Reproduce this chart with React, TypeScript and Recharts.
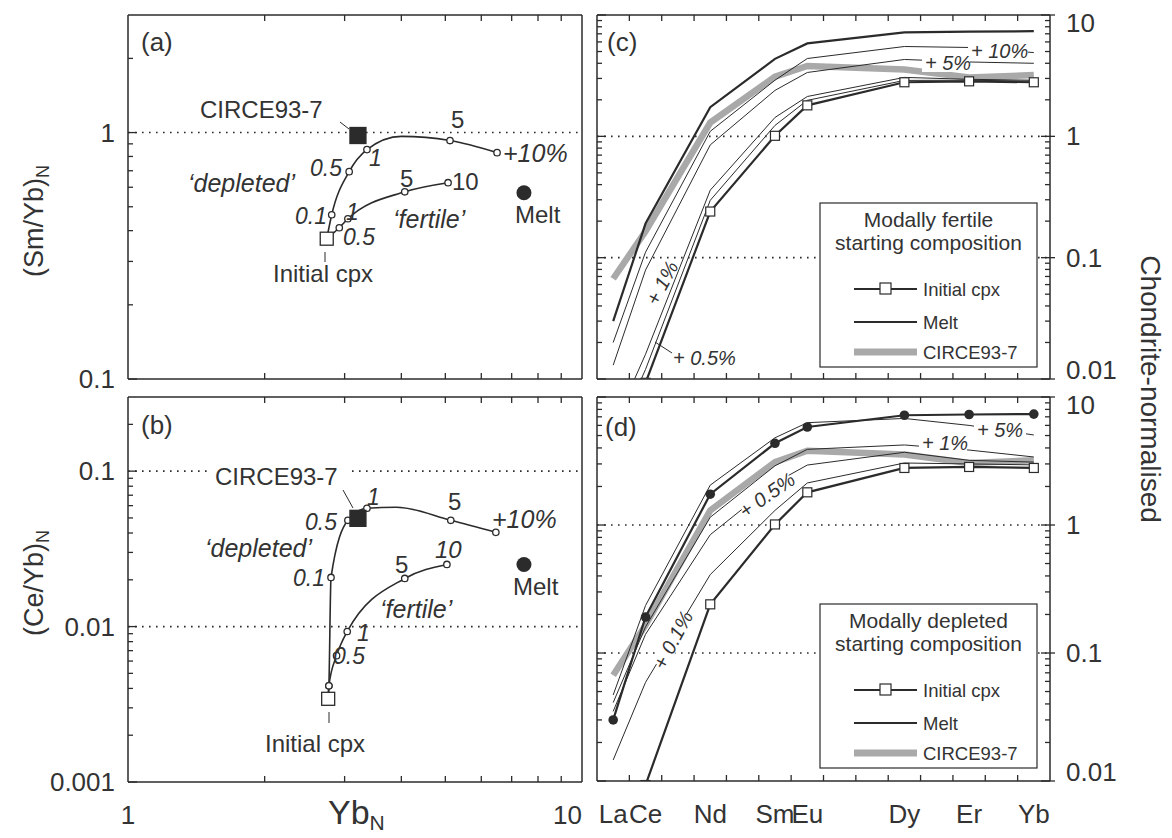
import React from "react";
import { ComposedChart, Line, XAxis, YAxis, ReferenceLine } from "recharts";

const W = 1172;
const H = 838;
const FONT = "'Liberation Sans', Arial, Helvetica, sans-serif";
const INK = "#2b2b2b";
const TXT = "#333";
const GREY = "#a9a9a9";

// ---- (a) (Sm/Yb)N vs YbN ----
const A_DEP_YB = [2.74, 2.81, 3.07, 3.36, 4.0, 5.12, 6.5];
const A_DEP_SMYB = [0.371, 0.464, 0.694, 0.853, 0.965, 0.928, 0.829];
const A_DEP_MARK = [0, 1, 1, 1, 0, 1, 1];
const A_FER_YB = [2.74, 2.92, 3.05, 4.07, 5.07];
const A_FER_SMYB = [0.371, 0.411, 0.447, 0.575, 0.626];
const A_FER_MARK = [0, 1, 1, 1, 1];
const A_INIT = { x: 2.74, y: 0.371 };
const A_CIRCE = { x: 3.21, y: 0.973 };
const A_MELT = { x: 7.45, y: 0.57 };

// ---- (b) (Ce/Yb)N vs YbN ----
const B_DEP_YB = [2.76, 2.77, 2.8, 3.05, 3.36, 3.9, 5.14, 6.46];
const B_DEP_CEYB = [0.00343, 0.00416, 0.0207, 0.0483, 0.0577, 0.0586, 0.0483, 0.0404];
const B_DEP_MARK = [0, 1, 1, 1, 1, 0, 1, 1];
const B_FER_YB = [2.76, 2.77, 2.88, 3.04, 4.07, 5.04];
const B_FER_CEYB = [0.00343, 0.00416, 0.0065, 0.0093, 0.0204, 0.0251];
const B_FER_MARK = [0, 1, 1, 1, 1, 1];
const B_INIT = { x: 2.76, y: 0.00343 };
const B_CIRCE = { x: 3.21, y: 0.0497 };
const B_MELT = { x: 7.45, y: 0.0251 };

// ---- (c)/(d) chondrite-normalised REE ----
const REE = ["La", "Ce", "Nd", "Sm", "Eu", "Dy", "Er", "Yb"];
const REE_POS = [0, 1, 3, 5, 6, 9, 11, 13];
const INIT_CPX = [null, 0.0093, 0.24, 1.01, 1.8, 2.79, 2.84, 2.79];
const MELT = [0.03, 0.191, 1.74, 4.35, 5.83, 7.2, 7.3, 7.35];
const CIRCE = [0.067, 0.165, 1.3, 3.1, 3.8, 3.55, 3.05, 3.2];
// modally fertile
const C_10 = [0.02, 0.111, 1.1, 2.9, 4.38, 5.5, 5.4, 4.9];
const C_5 = [0.013, 0.079, 0.85, 2.39, 3.36, 4.3, 4.1, 4.0];
const C_1 = [0.004, 0.016, 0.36, 1.43, 2.13, 3.06, 2.95, 2.9];
const C_05 = [0.003, 0.012, 0.297, 1.23, 1.98, 2.89, 2.9, 2.85];
// modally depleted
const D_5 = [0.047, 0.235, 2.05, 4.8, 6.3, 6.8, 6.0, 5.05];
const D_1 = [0.041, 0.16, 1.15, 2.9, 3.9, 4.22, 3.85, 3.4];
const D_05 = [0.035, 0.14, 0.84, 2.13, 2.94, 3.7, 3.2, 3.1];
const D_01 = [0.0146, 0.059, 0.41, 1.3, 2.13, 3.05, 3.0, 2.95];

// ticks
const logTicks = (lo: number, hi: number) => {
  const out: number[] = [];
  for (let e = lo; e < hi; e++)
    for (let m = 1; m < 10; m++) out.push(Number((m * Math.pow(10, e)).toPrecision(3)));
  out.push(Math.pow(10, hi));
  return out;
};
const A_YTICKS = [...logTicks(-1, 0), 2];
const B_YTICKS = [...logTicks(-3, -1), 0.2];
const CD_YTICKS = logTicks(-2, 1);
const YB_TICKS = [1, 2, 3, 4, 5, 6, 7, 8, 9, 10];
const REE_GRID = [0.5, 1.5, 2.5, 3.5, 4.5, 5.5, 6.5, 7.5, 8.5, 9.5, 10.5, 11.5, 12.5];

const BOX_A = { l: 128, t: 15, r: 582, b: 379 };
const BOX_B = { l: 128, t: 397, r: 582, b: 782 };
const BOX_C = { l: 597, t: 15, r: 1050, b: 379 };
const BOX_D = { l: 597, t: 397, r: 1050, b: 781 };

const margins = (bx: typeof BOX_A) => ({
  left: bx.l - 1,
  top: bx.t - 1,
  right: W - bx.r - 1,
  bottom: H - bx.b - 1,
});

const zip = (xs: number[], ys: number[], ms: number[]) =>
  xs.map((x, i) => ({ x, y: ys[i], m: ms[i] }));

const reeTable = (series: Record<string, (number | null)[]>) =>
  REE_POS.map((x, i) => {
    const row: Record<string, number | null> = { x };
    Object.keys(series).forEach((k) => (row[k] = series[k][i]));
    return row;
  });

const isDecade = (v: number) => Math.abs(Math.log10(v) - Math.round(Math.log10(v))) < 1e-6;

function yTick(side: "left" | "right", labels: boolean, dom: [number, number]) {
  return (p: any) => {
    const v = p.payload.value;
    const major = isDecade(v);
    const len = major ? 9 : 5;
    const dir = side === "left" ? 1 : -1;
    let dy = 9;
    if (side === "right" && Math.abs(v - dom[1]) < 1e-9) dy = 17;
    if (side === "right" && Math.abs(v - dom[0]) < 1e-9) dy = 0;
    return (
      <g key={`${side}-${p.index}`}>
        <line x1={p.x} y1={p.y} x2={p.x + dir * len} y2={p.y} stroke={INK} strokeWidth={1.3} />
        {side === "right" && major && labels && (
          <line x1={p.x} y1={p.y} x2={p.x + 5} y2={p.y} stroke={INK} strokeWidth={1.3} />
        )}
        {labels && major && (
          <text
            x={side === "left" ? p.x - 13 : p.x + 16}
            y={p.y + dy}
            textAnchor={side === "left" ? "end" : "start"}
            fontSize={26}
            fontFamily={FONT}
            fill={TXT}
          >
            {String(v)}
          </text>
        )}
      </g>
    );
  };
}

function xTick(
  side: "top" | "bottom",
  mark: (v: number) => boolean,
  label: (v: number) => { t: string; anchor: "start" | "middle" | "end" } | null
) {
  return (p: any) => {
    const v = p.payload.value;
    const dir = side === "bottom" ? -1 : 1;
    const lab = label(v);
    return (
      <g key={`${side}-${p.index}`}>
        {mark(v) && <line x1={p.x} x2={p.x} y1={p.y} y2={p.y + dir * 6} stroke={INK} strokeWidth={1.3} />}
        {lab && (
          <text x={p.x} y={p.y + 42} textAnchor={lab.anchor} fontSize={26} fontFamily={FONT} fill={TXT}>
            {lab.t}
          </text>
        )}
      </g>
    );
  };
}

const openDot = (p: any) =>
  p.payload && p.payload.m ? (
    <circle key={p.index} cx={p.cx} cy={p.cy} r={3.2} fill="#fff" stroke={INK} strokeWidth={1.3} />
  ) : (
    <g key={p.index} />
  );

const square = (size: number, fill: string, sw = 1.3) => (p: any) =>
  p.cy == null || p.payload == null || p.value == null ? (
    <g key={p.index} />
  ) : (
    <rect
      key={p.index}
      x={p.cx - size / 2}
      y={p.cy - size / 2}
      width={size}
      height={size}
      fill={fill}
      stroke={INK}
      strokeWidth={sw}
    />
  );

const disc = (r: number) => (p: any) =>
  p.cy == null || p.value == null ? <g key={p.index} /> : <circle key={p.index} cx={p.cx} cy={p.cy} r={r} fill={INK} />;

const layer: React.CSSProperties = { position: "absolute", left: 0, top: 0 };

function RatioPanel(props: {
  box: typeof BOX_A;
  yDomain: [number, number];
  yTicks: number[];
  refs: number[];
  dep: { x: number; y: number; m: number }[];
  fer: { x: number; y: number; m: number }[];
  init: { x: number; y: number };
  circe: { x: number; y: number };
  melt: { x: number; y: number };
  xLabels: boolean;
}) {
  const { box, yDomain, yTicks, refs, dep, fer, init, circe, melt, xLabels } = props;
  return (
    <div style={layer}>
      <ComposedChart width={W} height={H} margin={margins(box)}>
        <XAxis
          xAxisId="b"
          dataKey="x"
          type="number"
          scale="log"
          domain={[1, 10]}
          ticks={YB_TICKS}
          interval={0}
          allowDataOverflow
          height={1}
          tickSize={0}
          tickMargin={0}
          axisLine={{ stroke: INK, strokeWidth: 1.5 }}
          tickLine={false}
          tick={xTick(
            "bottom",
            (v) => v > 1 && v < 10,
            (v) => (!xLabels ? null : v === 1 ? { t: "1", anchor: "middle" } : v === 10 ? { t: "10", anchor: "end" } : null)
          )}
        />
        <XAxis
          xAxisId="t"
          orientation="top"
          dataKey="x"
          type="number"
          scale="log"
          domain={[1, 10]}
          ticks={YB_TICKS}
          interval={0}
          allowDataOverflow
          height={1}
          tickSize={0}
          tickMargin={0}
          axisLine={{ stroke: INK, strokeWidth: 1.5 }}
          tickLine={false}
          tick={xTick("top", (v) => v > 1 && v < 10, () => null)}
        />
        <YAxis
          yAxisId="l"
          dataKey="y"
          type="number"
          scale="log"
          domain={yDomain}
          ticks={yTicks}
          interval={0}
          allowDataOverflow
          width={1}
          tickSize={0}
          tickMargin={0}
          axisLine={{ stroke: INK, strokeWidth: 1.5 }}
          tickLine={false}
          tick={yTick("left", true, yDomain)}
        />
        <YAxis
          yAxisId="r"
          orientation="right"
          type="number"
          scale="log"
          domain={yDomain}
          allowDataOverflow
          width={1}
          axisLine={{ stroke: INK, strokeWidth: 1.5 }}
          tick={false}
          tickLine={false}
        />
        {refs.map((r) => (
          <ReferenceLine
            key={r}
            xAxisId="b"
            yAxisId="l"
            y={r}
            stroke={INK}
            strokeWidth={1.6}
            strokeDasharray="1.6 5.4"
          />
        ))}
        <Line xAxisId="b" yAxisId="l" data={dep} dataKey="y" type="monotoneX" stroke={INK} strokeWidth={1.6} dot={openDot} activeDot={false} isAnimationActive={false} />
        <Line xAxisId="b" yAxisId="l" data={fer} dataKey="y" type="monotoneX" stroke={INK} strokeWidth={1.6} dot={openDot} activeDot={false} isAnimationActive={false} />
        <Line xAxisId="b" yAxisId="l" data={[init]} dataKey="y" stroke="none" dot={square(13, "#fff")} activeDot={false} isAnimationActive={false} />
        <Line xAxisId="b" yAxisId="l" data={[circe]} dataKey="y" stroke="none" dot={square(16, INK)} activeDot={false} isAnimationActive={false} />
        <Line xAxisId="b" yAxisId="l" data={[melt]} dataKey="y" stroke="none" dot={disc(7.5)} activeDot={false} isAnimationActive={false} />
      </ComposedChart>
    </div>
  );
}

function ReePanel(props: {
  box: typeof BOX_A;
  thin: Record<string, (number | null)[]>;
  meltDots: boolean;
  xLabels: boolean;
}) {
  const { box, thin, meltDots, xLabels } = props;
  const data = reeTable({ ...thin, init: INIT_CPX, melt: MELT, circe: CIRCE });
  const dom: [number, number] = [0.01, 10];
  const ticks = [...REE_GRID, ...REE_POS].sort((a, b) => a - b);
  return (
    <div style={layer}>
      <ComposedChart width={W} height={H} margin={margins(box)} data={data}>
        <XAxis
          xAxisId="b"
          dataKey="x"
          type="number"
          domain={[-0.5, 13.5]}
          ticks={ticks}
          interval={0}
          allowDataOverflow
          height={1}
          tickSize={0}
          tickMargin={0}
          axisLine={{ stroke: INK, strokeWidth: 1.5 }}
          tickLine={false}
          tick={xTick(
            "bottom",
            (v) => v % 1 !== 0,
            (v) => (xLabels && v % 1 === 0 ? { t: REE[REE_POS.indexOf(v)], anchor: "middle" } : null)
          )}
        />
        <XAxis
          xAxisId="t"
          orientation="top"
          dataKey="x"
          type="number"
          domain={[-0.5, 13.5]}
          ticks={REE_GRID}
          interval={0}
          allowDataOverflow
          height={1}
          tickSize={0}
          tickMargin={0}
          axisLine={{ stroke: INK, strokeWidth: 1.5 }}
          tickLine={false}
          tick={xTick("top", () => true, () => null)}
        />
        <YAxis
          yAxisId="l"
          type="number"
          scale="log"
          domain={dom}
          ticks={CD_YTICKS}
          interval={0}
          allowDataOverflow
          width={1}
          tickSize={0}
          tickMargin={0}
          axisLine={{ stroke: INK, strokeWidth: 1.5 }}
          tickLine={false}
          tick={yTick("left", false, dom)}
        />
        <YAxis
          yAxisId="r"
          orientation="right"
          type="number"
          scale="log"
          domain={dom}
          ticks={CD_YTICKS}
          interval={0}
          allowDataOverflow
          width={1}
          tickSize={0}
          tickMargin={0}
          axisLine={{ stroke: INK, strokeWidth: 1.5 }}
          tickLine={false}
          tick={yTick("right", true, dom)}
        />
        {[1, 0.1].map((r) => (
          <ReferenceLine key={r} xAxisId="b" yAxisId="l" y={r} stroke={INK} strokeWidth={1.6} strokeDasharray="1.6 5.4" />
        ))}
        <Line xAxisId="b" yAxisId="l" dataKey="circe" stroke={GREY} strokeWidth={6.5} dot={false} activeDot={false} isAnimationActive={false} />
        {Object.keys(thin).map((k) => (
          <Line key={k} xAxisId="b" yAxisId="l" dataKey={k} stroke={INK} strokeWidth={1} dot={false} activeDot={false} isAnimationActive={false} />
        ))}
        <Line xAxisId="b" yAxisId="l" dataKey="init" stroke={INK} strokeWidth={2.2} dot={square(9, "#fff", 1.2)} activeDot={false} isAnimationActive={false} />
        <Line xAxisId="b" yAxisId="l" dataKey="melt" stroke={INK} strokeWidth={2.2} dot={meltDots ? disc(4.8) : false} activeDot={false} isAnimationActive={false} />
      </ComposedChart>
    </div>
  );
}

const T = (p: {
  x: number;
  y: number;
  s?: number;
  it?: boolean;
  a?: "start" | "middle" | "end";
  children: React.ReactNode;
}) => (
  <text
    x={p.x}
    y={p.y}
    fontSize={p.s ?? 24}
    fontStyle={p.it ? "italic" : "normal"}
    textAnchor={p.a ?? "start"}
    fill={TXT}
    fontFamily={FONT}
  >
    {p.children}
  </text>
);

const Mask = ({ x, y, w, h }: { x: number; y: number; w: number; h: number }) => (
  <rect x={x} y={y} width={w} height={h} fill="#fff" />
);

const Lead = ({ x1, y1, x2, y2 }: { x1: number; y1: number; x2: number; y2: number }) => (
  <line x1={x1} y1={y1} x2={x2} y2={y2} stroke={INK} strokeWidth={1} />
);

const RotLabel = ({ x, y, angle, text, w }: { x: number; y: number; angle: number; text: string; w: number }) => (
  <g transform={`translate(${x},${y}) rotate(${angle})`}>
    <rect x={-w / 2} y={-9} width={w} height={17} fill="#fff" />
    <text x={0} y={7} textAnchor="middle" fontSize={20} fontStyle="italic" fill={TXT} fontFamily={FONT}>
      {text}
    </text>
  </g>
);

function LegendBox({ x, y, title }: { x: number; y: number; title: string }) {
  const w = 217;
  const h = 164;
  return (
    <g fontFamily={FONT} fill={TXT}>
      <rect x={x} y={y} width={w} height={h} fill="#fff" stroke={INK} strokeWidth={1.2} />
      <text x={x + w / 2} y={y + 24} textAnchor="middle" fontSize={21}>{title}</text>
      <text x={x + w / 2} y={y + 47} textAnchor="middle" fontSize={21}>starting composition</text>
      <line x1={x + 34} x2={x + 97} y1={y + 86} y2={y + 86} stroke={INK} strokeWidth={2} />
      <rect x={x + 60} y={y + 80} width={11} height={11} fill="#fff" stroke={INK} strokeWidth={1.2} />
      <text x={x + 103} y={y + 93} fontSize={18.5}>Initial cpx</text>
      <line x1={x + 34} x2={x + 97} y1={y + 119} y2={y + 119} stroke={INK} strokeWidth={2} />
      <text x={x + 103} y={y + 126} fontSize={18.5}>Melt</text>
      <line x1={x + 34} x2={x + 97} y1={y + 149} y2={y + 149} stroke={GREY} strokeWidth={7} />
      <text x={x + 103} y={y + 156} fontSize={18.5}>CIRCE93-7</text>
    </g>
  );
}

function Overlay() {
  return (
    <svg width={W} height={H} style={{ ...layer, pointerEvents: "none" }}>
      {/* (a) */}
      <T x={141} y={51} s={26}>(a)</T>
      <T x={200} y={118}>CIRCE93-7</T>
      <Lead x1={340} y1={122} x2={349} y2={129} />
      <T x={188} y={192} s={25} it>‘depleted’</T>
      <T x={310} y={176} s={23} it>0.5</T>
      <T x={369} y={166} s={23} it>1</T>
      <T x={295} y={224} s={23} it>0.1</T>
      <T x={346} y={220} s={23} it>1</T>
      <T x={343} y={245} s={23} it>0.5</T>
      <T x={273} y={282}>Initial cpx</T>
      <Lead x1={325} y1={252} x2={325} y2={262} />
      <T x={451} y={128}>5</T>
      <T x={503} y={162} s={25} it>+10%</T>
      <T x={400} y={187}>5</T>
      <T x={452} y={190}>10</T>
      <T x={393} y={228} s={25} it>‘fertile’</T>
      <T x={515} y={223}>Melt</T>
      <g transform="translate(43,221) rotate(-90)">
        <text x={0} y={0} textAnchor="middle" fontSize={27} fill={TXT} fontFamily={FONT}>
          (Sm/Yb)<tspan fontSize={18} dy={6}>N</tspan>
        </text>
      </g>

      {/* (b) */}
      <T x={141} y={434} s={26}>(b)</T>
      <Mask x={210} y={464} w={138} h={25} />
      <T x={215} y={485}>CIRCE93-7</T>
      <Lead x1={343} y1={490} x2={353} y2={508} />
      <T x={305} y={530} s={23} it>0.5</T>
      <T x={367} y={505} s={23} it>1</T>
      <T x={205} y={557} s={25} it>‘depleted’</T>
      <T x={293} y={586} s={23} it>0.1</T>
      <T x={357} y={641} s={23} it>1</T>
      <T x={333} y={664} s={23} it>0.5</T>
      <T x={265} y={752}>Initial cpx</T>
      <Lead x1={329} y1={712} x2={329} y2={723} />
      <T x={448} y={510}>5</T>
      <T x={492} y={528} s={25} it>+10%</T>
      <T x={395} y={573}>5</T>
      <T x={435} y={558} it>10</T>
      <T x={380} y={618} s={25} it>‘fertile’</T>
      <T x={513} y={595}>Melt</T>
      <g transform="translate(43,583) rotate(-90)">
        <text x={0} y={0} textAnchor="middle" fontSize={27} fill={TXT} fontFamily={FONT}>
          (Ce/Yb)<tspan fontSize={18} dy={6}>N</tspan>
        </text>
      </g>
      <text x={328} y={824} fontSize={34} fill={TXT} fontFamily={FONT}>
        Yb<tspan fontSize={21} dy={6}>N</tspan>
      </text>

      {/* (c) */}
      <T x={607} y={51} s={26}>(c)</T>
      <Mask x={968} y={40} w={60} h={20} />
      <T x={971} y={58} s={20} it>+ 10%</T>
      <Mask x={922} y={52} w={48} h={20} />
      <T x={925} y={70} s={20} it>+ 5%</T>
      <RotLabel x={662} y={283} angle={-62} text="+ 1%" w={40} />
      <Lead x1={655} y1={342} x2={672} y2={353} />
      <T x={673} y={365} s={20} it>+ 0.5%</T>
      <LegendBox x={820} y={203} title="Modally fertile" />

      {/* (d) */}
      <T x={605} y={436} s={26}>(d)</T>
      <Mask x={974} y={419} w={52} h={21} />
      <T x={977} y={437} s={20} it>+ 5%</T>
      <Mask x={919} y={432} w={48} h={21} />
      <T x={922} y={450} s={20} it>+ 1%</T>
      <RotLabel x={767} y={495} angle={-35} text="+ 0.5%" w={58} />
      <RotLabel x={673} y={640} angle={-62} text="+ 0.1%" w={58} />
      <LegendBox x={820} y={604} title="Modally depleted" />

      <g transform="translate(1141,389) rotate(90)">
        <text x={0} y={0} textAnchor="middle" fontSize={28} fill={TXT} fontFamily={FONT}>
          Chondrite-normalised
        </text>
      </g>
    </svg>
  );
}

export default function App() {
  return (
    <div style={{ position: "absolute", left: 0, top: 0, width: W, height: H, background: "#fff" }}>
      <RatioPanel
        box={BOX_A}
        yDomain={[0.1, 3]}
        yTicks={A_YTICKS}
        refs={[1]}
        dep={zip(A_DEP_YB, A_DEP_SMYB, A_DEP_MARK)}
        fer={zip(A_FER_YB, A_FER_SMYB, A_FER_MARK)}
        init={A_INIT}
        circe={A_CIRCE}
        melt={A_MELT}
        xLabels={false}
      />
      <RatioPanel
        box={BOX_B}
        yDomain={[0.001, 0.3]}
        yTicks={B_YTICKS}
        refs={[0.1, 0.01]}
        dep={zip(B_DEP_YB, B_DEP_CEYB, B_DEP_MARK)}
        fer={zip(B_FER_YB, B_FER_CEYB, B_FER_MARK)}
        init={B_INIT}
        circe={B_CIRCE}
        melt={B_MELT}
        xLabels={true}
      />
      <ReePanel box={BOX_C} thin={{ p10: C_10, p5: C_5, p1: C_1, p05: C_05 }} meltDots={false} xLabels={false} />
      <ReePanel box={BOX_D} thin={{ p5: D_5, p1: D_1, p05: D_05, p01: D_01 }} meltDots={true} xLabels={true} />
      <Overlay />
    </div>
  );
}
